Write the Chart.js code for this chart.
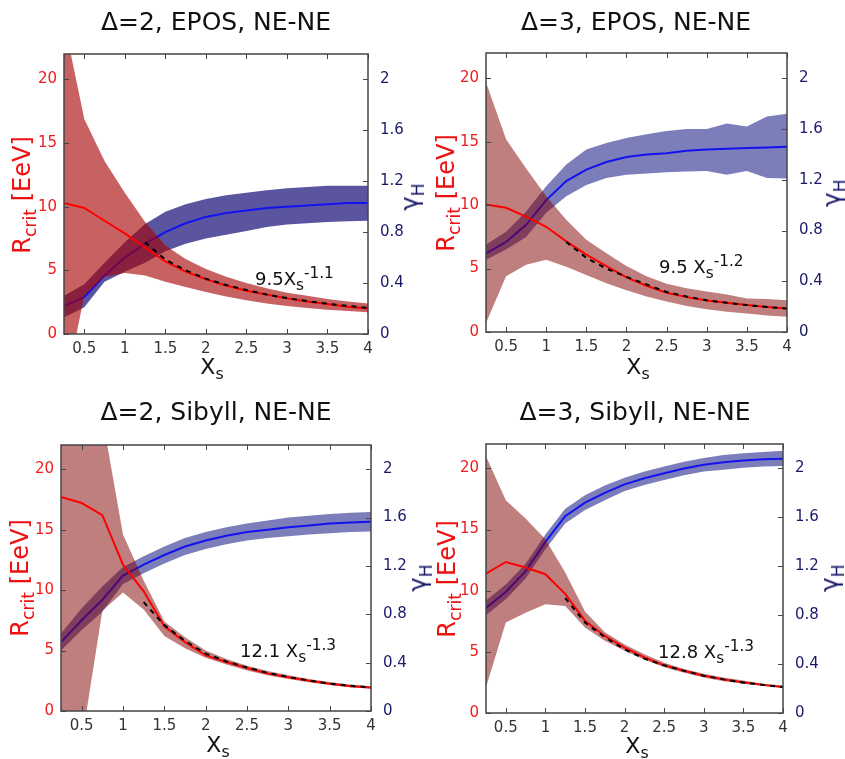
<!DOCTYPE html>
<html>
<head>
<meta charset="utf-8">
<script src="https://cdn.jsdelivr.net/npm/chart.js@4/dist/chart.umd.min.js"></script>
<style>
body { margin: 0; background: #fff; }
#wrap { position: relative; width: 845px; height: 759px; overflow: hidden; font-family: "DejaVu Sans", sans-serif; }
canvas { position: absolute; }
.lbl { position: absolute; white-space: nowrap; line-height: 1; }
.lbl sub, .lbl sup { line-height: 0; font-size: 0.72em; }
.ttl { font-size: 25px; color: #111; transform: translate(-50%, -50%); }
.xt { font-size: 22px; color: #111; transform: translate(-50%, -50%); }
.yl { font-size: 24px; color: #f01010; transform: translate(-50%, -50%) rotate(-90deg); }
.yr { font-size: 24px; color: #1a1a6a; transform: translate(-50%, -50%) rotate(-90deg); }
.fit { font-size: 18px; color: #111; }
.fit sub, .fit sup { font-size: 0.85em; }
</style>
</head>
<body>
<div id="wrap">
  <canvas id="p1" width="422" height="380" style="left:0;top:0"></canvas>
  <canvas id="p2" width="423" height="380" style="left:422px;top:0"></canvas>
  <canvas id="p3" width="422" height="379" style="left:0;top:380px"></canvas>
  <canvas id="p4" width="423" height="379" style="left:422px;top:380px"></canvas>

  <div class="lbl ttl" style="left:216px;top:21px">Δ=2, EPOS, NE-NE</div>
  <div class="lbl ttl" style="left:636px;top:21px">Δ=3, EPOS, NE-NE</div>
  <div class="lbl ttl" style="left:216px;top:411px">Δ=2, Sibyll, NE-NE</div>
  <div class="lbl ttl" style="left:635px;top:411px">Δ=3, Sibyll, NE-NE</div>

  <div class="lbl xt" style="left:212px;top:367px">X<sub>s</sub></div>
  <div class="lbl xt" style="left:638px;top:367px">X<sub>s</sub></div>
  <div class="lbl xt" style="left:218px;top:745px">X<sub>s</sub></div>
  <div class="lbl xt" style="left:637px;top:746px">X<sub>s</sub></div>

  <div class="lbl yl" style="left:22px;top:195px">R<sub>crit</sub> [EeV]</div>
  <div class="lbl yl" style="left:446px;top:193px">R<sub>crit</sub> [EeV]</div>
  <div class="lbl yl" style="left:20px;top:578px">R<sub>crit</sub> [EeV]</div>
  <div class="lbl yl" style="left:447px;top:579px">R<sub>crit</sub> [EeV]</div>

  <div class="lbl yr" style="left:410px;top:197px">γ<sub>H</sub></div>
  <div class="lbl yr" style="left:832px;top:193px">γ<sub>H</sub></div>
  <div class="lbl yr" style="left:418px;top:578px">γ<sub>H</sub></div>
  <div class="lbl yr" style="left:830px;top:578px">γ<sub>H</sub></div>

  <div class="lbl fit" style="left:255px;top:270px">9.5X<sub>s</sub><sup>-1.1</sup></div>
  <div class="lbl fit" style="left:659px;top:258px">9.5 X<sub>s</sub><sup>-1.2</sup></div>
  <div class="lbl fit" style="left:240px;top:642px">12.1 X<sub>s</sub><sup>-1.3</sup></div>
  <div class="lbl fit" style="left:658px;top:643px">12.8 X<sub>s</sub><sup>-1.3</sup></div>
</div>

<script>
// x grid and tick labels
const xs = [0.25, 0.5, 0.75, 1, 1.25, 1.5, 1.75, 2, 2.25, 2.5, 2.75, 3, 3.25, 3.5, 3.75, 4];
const xTicks = [0.5, 1, 1.5, 2, 2.5, 3, 3.5, 4];
const rTicks = [0, 5, 10, 15, 20];
const gTicks = [0, 0.4, 0.8, 1.2, 1.6, 2];

// Delta=2, EPOS
const r1 = [10.3, 9.9, 8.9, 7.9, 6.8, 5.7, 4.9, 4.3, 3.8, 3.4, 3.1, 2.8, 2.55, 2.35, 2.15, 2.0];
const r1Hi = [24.6, 16.9, 13.6, 11.1, 8.8, 6.95, 5.9, 5.1, 4.5, 4.0, 3.6, 3.25, 3.0, 2.75, 2.55, 2.4];
const r1Lo = [-4.8, 3.0, 4.5, 4.8, 4.6, 4.1, 3.7, 3.3, 2.95, 2.65, 2.4, 2.2, 2.05, 1.9, 1.8, 1.7];
const fit1 = [null, null, null, null, 7.2, 5.85, 5.0, 4.35, 3.85, 3.45, 3.1, 2.82, 2.58, 2.38, 2.2, 2.05];
const g1 = [0.22, 0.29, 0.46, 0.60, 0.71, 0.80, 0.87, 0.92, 0.95, 0.97, 0.99, 1.0, 1.01, 1.02, 1.03, 1.03];
const g1Hi = [0.30, 0.39, 0.56, 0.72, 0.865, 0.96, 1.02, 1.06, 1.09, 1.11, 1.13, 1.145, 1.155, 1.165, 1.165, 1.165];
const g1Lo = [0.13, 0.21, 0.41, 0.49, 0.56, 0.65, 0.71, 0.75, 0.78, 0.81, 0.84, 0.86, 0.87, 0.88, 0.885, 0.89];

// Delta=3, EPOS
const r2 = [10.05, 9.8, 9.1, 8.3, 7.15, 6.1, 5.2, 4.3, 3.65, 3.1, 2.75, 2.48, 2.3, 2.12, 1.97, 1.85];
const r2Hi = [19.7, 15.2, 12.9, 10.7, 8.85, 7.27, 6.2, 5.2, 4.4, 3.8, 3.45, 3.2, 2.95, 2.65, 2.6, 2.5];
const r2Lo = [0.7, 4.4, 5.3, 5.7, 5.15, 4.5, 3.85, 3.3, 2.8, 2.4, 2.05, 1.8, 1.6, 1.45, 1.3, 1.2];
const fit2 = [null, null, null, null, 7.1, 5.85, 5.0, 4.35, 3.75, 3.15, 2.8, 2.5, 2.3, 2.12, 1.97, 1.85];
const g2 = [0.62, 0.71, 0.845, 1.04, 1.19, 1.28, 1.34, 1.38, 1.40, 1.41, 1.43, 1.44, 1.445, 1.45, 1.455, 1.46];
const g2Hi = [0.69, 0.79, 0.95, 1.15, 1.32, 1.44, 1.49, 1.53, 1.56, 1.585, 1.6, 1.6, 1.645, 1.62, 1.70, 1.72];
const g2Lo = [0.57, 0.65, 0.75, 0.94, 1.07, 1.16, 1.215, 1.24, 1.25, 1.26, 1.265, 1.27, 1.24, 1.27, 1.215, 1.21];

// Delta=2, Sibyll
const r3 = [17.7, 17.2, 16.2, 12.1, 9.9, 7.0, 5.7, 4.6, 4.05, 3.55, 3.1, 2.8, 2.5, 2.25, 2.05, 1.95];
const r3Hi = [30, 30, 24.3, 14.6, 10.8, 7.4, 6.1, 5.0, 4.3, 3.75, 3.3, 2.95, 2.65, 2.4, 2.2, 2.05];
const r3Lo = [-12, -2.6, 8.3, 9.8, 8.4, 6.2, 5.2, 4.4, 3.85, 3.35, 2.95, 2.65, 2.38, 2.15, 1.97, 1.85];
const fit3 = [null, null, null, null, 9.0, 7.1, 5.8, 4.75, 4.1, 3.6, 3.15, 2.82, 2.52, 2.27, 2.08, 1.95];
const g3 = [0.57, 0.75, 0.92, 1.12, 1.21, 1.29, 1.36, 1.41, 1.45, 1.48, 1.50, 1.52, 1.535, 1.55, 1.56, 1.565];
const g3Hi = [0.64, 0.85, 1.03, 1.19, 1.28, 1.36, 1.43, 1.48, 1.52, 1.55, 1.575, 1.60, 1.615, 1.63, 1.64, 1.645];
const g3Lo = [0.50, 0.67, 0.82, 1.05, 1.14, 1.22, 1.29, 1.34, 1.38, 1.41, 1.43, 1.445, 1.46, 1.47, 1.48, 1.485];

// Delta=3, Sibyll
const r4 = [11.4, 12.35, 11.9, 11.35, 9.75, 7.55, 6.3, 5.35, 4.55, 3.9, 3.45, 3.05, 2.75, 2.5, 2.3, 2.12];
const r4Hi = [21.0, 17.4, 15.9, 14.2, 11.5, 8.3, 6.6, 5.6, 4.8, 4.1, 3.6, 3.2, 2.9, 2.65, 2.4, 2.25];
const r4Lo = [2.1, 7.4, 8.2, 8.9, 8.75, 7.0, 5.9, 5.1, 4.35, 3.75, 3.3, 2.9, 2.6, 2.4, 2.2, 2.05];
const fit4 = [null, null, null, null, 9.4, 7.4, 6.2, 5.2, 4.45, 3.9, 3.45, 3.05, 2.75, 2.5, 2.3, 2.12];
const g4 = [0.86, 0.99, 1.16, 1.40, 1.61, 1.72, 1.80, 1.87, 1.92, 1.96, 2.0, 2.03, 2.05, 2.065, 2.075, 2.08];
const g4Hi = [0.92, 1.05, 1.22, 1.46, 1.67, 1.78, 1.86, 1.925, 1.975, 2.015, 2.055, 2.085, 2.11, 2.125, 2.135, 2.145];
const g4Lo = [0.80, 0.93, 1.10, 1.34, 1.55, 1.66, 1.74, 1.815, 1.865, 1.905, 1.945, 1.975, 1.99, 2.005, 2.015, 2.02];

const FONT = "DejaVu Sans";

// draws the box round the plot and the inward tick marks
const frameTicks = {
    id: 'frameTicks',
    afterDatasetsDraw(chart) {
        const ctx = chart.ctx;
        const a = chart.chartArea;
        const sx = chart.scales.x, sy = chart.scales.y, sy1 = chart.scales.y1;
        ctx.save();
        ctx.strokeStyle = '#444';
        ctx.lineWidth = 1;
        ctx.beginPath();
        sx.ticks.forEach(t => {
            const px = Math.round(sx.getPixelForValue(t.value)) + 0.5;
            ctx.moveTo(px, a.bottom); ctx.lineTo(px, a.bottom - 5);
            ctx.moveTo(px, a.top); ctx.lineTo(px, a.top + 5);
        });
        sy.ticks.forEach(t => {
            const py = Math.round(sy.getPixelForValue(t.value)) + 0.5;
            ctx.moveTo(a.left, py); ctx.lineTo(a.left + 5, py);
        });
        sy1.ticks.forEach(t => {
            const py = Math.round(sy1.getPixelForValue(t.value)) + 0.5;
            ctx.moveTo(a.right, py); ctx.lineTo(a.right - 5, py);
        });
        ctx.stroke();
        ctx.lineWidth = 1.5;
        ctx.strokeRect(a.left, a.top, a.right - a.left, a.bottom - a.top);
        ctx.restore();
    }
};

function pts(vals) {
    return vals.map((v, i) => ({x: xs[i], y: v}));
}

function setTicks(list) {
    return axis => { axis.ticks = list.map(v => ({value: v})); };
}

function drawPanel(id, box, d, colors) {
    // box = [canvas w, canvas h, plot left, plot right, plot top, plot bottom]
    const [w, h, left, right, top, bottom] = box;
    const ctx = document.getElementById(id).getContext('2d');

    new Chart(ctx, {
        type: 'line',
        data: {
            datasets: [
                {data: pts(d.gLo), yAxisID: 'y1', borderWidth: 0, fill: false, order: 7},
                {data: pts(d.gHi), yAxisID: 'y1', borderWidth: 0, fill: '-1', backgroundColor: colors.blueBand, order: 6},
                {data: pts(d.g), yAxisID: 'y1', borderColor: '#1212f0', borderWidth: 2, fill: false, order: 5},
                {data: pts(d.rLo), yAxisID: 'y', borderWidth: 0, fill: false, order: 4},
                {data: pts(d.rHi), yAxisID: 'y', borderWidth: 0, fill: '-1', backgroundColor: colors.redBand, order: 3},
                {data: pts(d.r), yAxisID: 'y', borderColor: '#ff0000', borderWidth: 2, fill: false, order: 2},
                {data: pts(d.fit), yAxisID: 'y', borderColor: '#000', borderWidth: 2, borderDash: [5, 5], fill: false, spanGaps: false, order: 1}
            ]
        },
        options: {
            responsive: false,
            animation: false,
            layout: {padding: {top: top, left: 0, right: 0, bottom: 0}},
            elements: {point: {radius: 0}, line: {tension: 0}},
            plugins: {legend: {display: false}, tooltip: {enabled: false}},
            scales: {
                x: {
                    type: 'linear', min: 0.25, max: 4,
                    grid: {display: false, drawTicks: false},
                    border: {display: false},
                    afterBuildTicks: setTicks(xTicks),
                    afterFit: s => { s.height = h - bottom; },
                    ticks: {color: '#333', font: {family: FONT, size: 15}, padding: 6, maxRotation: 0, autoSkip: false, callback: v => String(v)}
                },
                y: {
                    type: 'linear', position: 'left', min: 0, max: 22,
                    grid: {display: false, drawTicks: false},
                    border: {display: false},
                    afterBuildTicks: setTicks(rTicks),
                    afterFit: s => { s.width = left; },
                    ticks: {color: '#ee1c1c', font: {family: FONT, size: 15}, padding: 7, callback: v => String(v)}
                },
                y1: {
                    type: 'linear', position: 'right', min: 0, max: 2.2,
                    grid: {display: false, drawTicks: false},
                    border: {display: false},
                    afterBuildTicks: setTicks(gTicks),
                    afterFit: s => { s.width = w - right; },
                    ticks: {color: '#1a1a6a', font: {family: FONT, size: 15}, padding: 12, callback: v => String(v)}
                }
            }
        },
        plugins: [frameTicks]
    });
}

const darkColors = {redBand: 'rgba(166, 0, 0, 0.62)', blueBand: '#5b55a0'};
const paleColors = {redBand: 'rgba(130, 0, 0, 0.5)', blueBand: '#7c7eb9'};

drawPanel('p1', [422, 380, 64, 368, 54, 334], {r: r1, rHi: r1Hi, rLo: r1Lo, fit: fit1, g: g1, gHi: g1Hi, gLo: g1Lo}, darkColors);
drawPanel('p2', [423, 380, 64, 365, 53, 332], {r: r2, rHi: r2Hi, rLo: r2Lo, fit: fit2, g: g2, gHi: g2Hi, gLo: g2Lo}, paleColors);
drawPanel('p3', [422, 379, 61, 371, 65, 331], {r: r3, rHi: r3Hi, rLo: r3Lo, fit: fit3, g: g3, gHi: g3Hi, gLo: g3Lo}, paleColors);
drawPanel('p4', [423, 379, 64, 361, 64, 333], {r: r4, rHi: r4Hi, rLo: r4Lo, fit: fit4, g: g4, gHi: g4Hi, gLo: g4Lo}, paleColors);
</script>
</body>
</html>
